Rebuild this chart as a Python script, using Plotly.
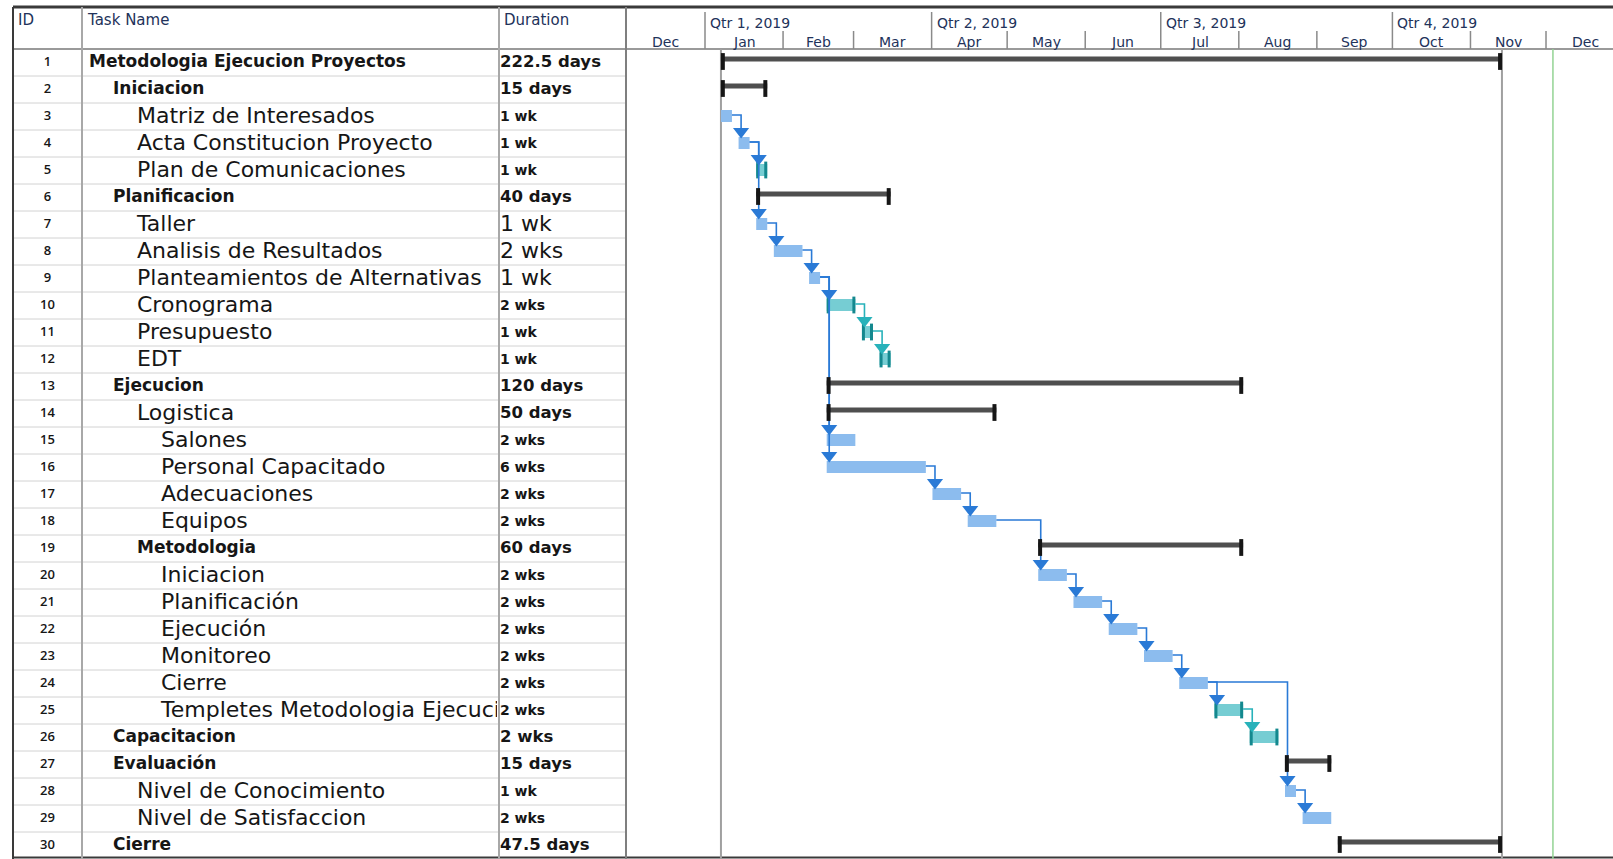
import pandas as pd
import plotly.graph_objects as go

# ---------------- data ----------------
task_ids = list(range(1, 31))
task_names = [
    "Metodologia Ejecucion Proyectos", "Iniciacion", "Matriz de Interesados",
    "Acta Constitucion Proyecto", "Plan de Comunicaciones", "Planificacion", "Taller",
    "Analisis de Resultados", "Planteamientos de Alternativas", "Cronograma",
    "Presupuesto", "EDT", "Ejecucion", "Logistica", "Salones", "Personal Capacitado",
    "Adecuaciones", "Equipos", "Metodologia", "Iniciacion", "Planificación", "Ejecución",
    "Monitoreo", "Cierre", "Templetes Metodologia Ejecucion Proyectos", "Capacitacion",
    "Evaluación", "Nivel de Conocimiento", "Nivel de Satisfaccion", "Cierre",
]
durations = [
    "222.5 days", "15 days", "1 wk", "1 wk", "1 wk", "40 days", "1 wk", "2 wks", "1 wk",
    "2 wks", "1 wk", "1 wk", "120 days", "50 days", "2 wks", "6 wks", "2 wks", "2 wks",
    "60 days", "2 wks", "2 wks", "2 wks", "2 wks", "2 wks", "2 wks", "2 wks", "15 days",
    "1 wk", "2 wks", "47.5 days",
]
outline_levels = [1, 2, 3, 3, 3, 2, 3, 3, 3, 3, 3, 3, 2, 3, 4, 4, 4, 4, 3, 4, 4, 4, 4, 4, 4, 2, 2, 3, 3, 2]
name_styles = "B B N N N B N N N N N N B N N N N N B N N N N N N B B N N B".split()
duration_styles = "B B S S S B N N N S S S B B S S S S B S S S S S S B B S S B".split()
# S = summary, T = task, M = manually scheduled task
bar_kinds = "S S T T M S T T T M M M S S T T T T S T T T T T M M S T T S".split()
start_dates = [
    "2019-01-07 08:00", "2019-01-07 08:00", "2019-01-07 08:00", "2019-01-14 08:00",
    "2019-01-21 08:00", "2019-01-21 08:00", "2019-01-21 08:00", "2019-01-28 08:00",
    "2019-02-11 08:00", "2019-02-18 08:00", "2019-03-04 08:00", "2019-03-11 08:00",
    "2019-02-18 08:00", "2019-02-18 08:00", "2019-02-18 08:00", "2019-02-18 08:00",
    "2019-04-01 08:00", "2019-04-15 08:00", "2019-05-13 08:00", "2019-05-13 08:00",
    "2019-05-27 08:00", "2019-06-10 08:00", "2019-06-24 08:00", "2019-07-08 08:00",
    "2019-07-22 08:00", "2019-08-05 08:00", "2019-08-19 08:00", "2019-08-19 08:00",
    "2019-08-26 08:00", "2019-09-09 08:00",
]
finish_dates = [
    "2019-11-13 12:00", "2019-01-25 17:00", "2019-01-11 17:00", "2019-01-18 17:00",
    "2019-01-25 17:00", "2019-03-15 17:00", "2019-01-25 17:00", "2019-02-08 17:00",
    "2019-02-15 17:00", "2019-03-01 17:00", "2019-03-08 17:00", "2019-03-15 17:00",
    "2019-08-02 17:00", "2019-04-26 17:00", "2019-03-01 17:00", "2019-03-29 17:00",
    "2019-04-12 17:00", "2019-04-26 17:00", "2019-08-02 17:00", "2019-05-24 17:00",
    "2019-06-07 17:00", "2019-06-21 17:00", "2019-07-05 17:00", "2019-07-19 17:00",
    "2019-08-02 17:00", "2019-08-16 17:00", "2019-09-06 17:00", "2019-08-23 17:00",
    "2019-09-06 17:00", "2019-11-13 12:00",
]
link_from = [3, 4, 4, 7, 8, 9, 10, 11, 9, 9, 16, 17, 18, 20, 21, 22, 23, 24, 25, 24, 28]
link_to = [4, 5, 7, 8, 9, 10, 11, 12, 15, 16, 17, 18, 20, 21, 22, 23, 24, 25, 26, 28, 29]
month_starts = ["2018-12-01", "2019-01-01", "2019-02-01", "2019-03-01", "2019-04-01",
                "2019-05-01", "2019-06-01", "2019-07-01", "2019-08-01", "2019-09-01",
                "2019-10-01", "2019-11-01", "2019-12-01", "2020-01-01"]
month_labels = ["Dec", "Jan", "Feb", "Mar", "Apr", "May", "Jun", "Jul", "Aug", "Sep",
                "Oct", "Nov", "Dec"]
quarter_starts = ["2019-01-01", "2019-04-01", "2019-07-01", "2019-10-01"]
quarter_labels = ["Qtr 1, 2019", "Qtr 2, 2019", "Qtr 3, 2019", "Qtr 4, 2019"]
status_date = "2019-12-03 18:00"

# ---------------- layout constants ----------------
W, H = 1613, 859
TOP_Y, HEADER_Y, ROW_H = 7, 49, 27
X_LEFT, X_ID, X_DUR, X_CHART = 13, 82, 499, 626
PX_PER_DAY = 2.518
JAN1_PX = 705

C_TASK = "#8cbcee"
C_MANUAL = "#76cdd3"
C_MANUAL_CAP = "#14888e"
C_SUM = "#4f4f4f"
C_SUM_CAP = "#161616"
C_LINK = "#2a7ad6"
C_LINK_M = "#28b2ba"
C_HDR_TXT = "#22325a"
C_TXT = "#161616"

starts = pd.to_datetime(start_dates)
finishes = pd.to_datetime(finish_dates)
jan1 = pd.Timestamp("2019-01-01")
x_min = jan1 - pd.Timedelta(days=(JAN1_PX - X_CHART) / PX_PER_DAY)
x_max = jan1 + pd.Timedelta(days=(W - JAN1_PX) / PX_PER_DAY)


def row_center(i):
    return HEADER_Y + ROW_H * i + ROW_H / 2


def fmt(ts):
    return ts.strftime("%Y-%m-%d %H:%M:%S")


fig = go.Figure()

# ---------------- Gantt bars ----------------
for kind, color, width, dy in [("T", C_TASK, 12, -0.5), ("M", C_MANUAL, 12, -0.5), ("S", C_SUM, 5, -3.5)]:
    idx = [i for i, k in enumerate(bar_kinds) if k == kind]
    fig.add_trace(go.Bar(
        orientation="h",
        y=[row_center(i) + dy for i in idx],
        base=[fmt(starts[i]) for i in idx],
        x=[(finishes[i] - starts[i]).total_seconds() * 1000 for i in idx],
        width=width, marker=dict(color=color, line=dict(width=0)),
        xaxis="x3", yaxis="y", hoverinfo="skip", showlegend=False,
    ))

# manual task end caps
cap_in = pd.Timedelta(hours=14)
idx = [i for i, k in enumerate(bar_kinds) if k == "M"]
cx, cy = [], []
for i in idx:
    cx += [fmt(starts[i] + cap_in), fmt(finishes[i] - cap_in)]
    cy += [row_center(i) - 0.5] * 2
fig.add_trace(go.Scatter(
    x=cx, y=cy, mode="markers", xaxis="x3", yaxis="y",
    marker=dict(symbol="line-ns", size=12, line=dict(width=3, color=C_MANUAL_CAP)),
    hoverinfo="skip", showlegend=False, cliponaxis=False,
))

# ---------------- dependency links ----------------
drop_off = pd.Timedelta(hours=24)
for color, mk in [(C_LINK, False), (C_LINK_M, True)]:
    lx, ly, ax, ay = [], [], [], []
    for a, b in zip(link_from, link_to):
        ia, ib = a - 1, b - 1
        if (bar_kinds[ia] == "M") != mk:
            continue
        xd = fmt(starts[ib] + drop_off)
        y0 = row_center(ia) - 1.5
        ytop = row_center(ib) - 0.5 - 6
        lx += [fmt(finishes[ia]), xd, xd, None]
        ly += [y0, y0, ytop - 5, None]
        ax.append(xd)
        ay.append(ytop - 5.5)
    fig.add_trace(go.Scatter(x=lx, y=ly, mode="lines", xaxis="x3", yaxis="y",
                             line=dict(color=color, width=1.6), hoverinfo="skip",
                             showlegend=False))
    fig.add_trace(go.Scatter(x=ax, y=ay, mode="markers", xaxis="x3", yaxis="y",
                             marker=dict(symbol="triangle-down", size=14, color=color,
                                         line=dict(width=0)),
                             hoverinfo="skip", showlegend=False))

# summary caps
idx = [i for i, k in enumerate(bar_kinds) if k == "S"]
sx, sy = [], []
for i in idx:
    sx += [fmt(starts[i] + pd.Timedelta(hours=18)), fmt(finishes[i] - pd.Timedelta(hours=18))]
    sy += [row_center(i) - 1] * 2
fig.add_trace(go.Scatter(
    x=sx, y=sy, mode="markers", xaxis="x3", yaxis="y",
    marker=dict(symbol="line-ns", size=12, line=dict(width=4, color=C_SUM_CAP)),
    hoverinfo="skip", showlegend=False, cliponaxis=False,
))

# ---------------- table texts ----------------
fig.add_trace(go.Scatter(
    x=[47.5] * len(task_ids), y=[row_center(i) for i in range(len(task_ids))],
    text=[str(t) for t in task_ids], mode="text", textposition="middle center",
    textfont=dict(family="Open Sans", size=13, color=C_TXT, weight=600),
    xaxis="x", yaxis="y", hoverinfo="skip", showlegend=False,
))

name_fonts = {"B": dict(family="DejaVu Sans", size=17, color=C_TXT, weight="bold"),
              "N": dict(family="DejaVu Sans", size=22, color=C_TXT)}
for st, font in name_fonts.items():
    idx = [i for i, s in enumerate(name_styles) if s == st]
    fig.add_trace(go.Scatter(
        x=[65 + 24 * outline_levels[i] for i in idx],
        y=[row_center(i) + 0.5 for i in idx],
        text=[task_names[i] for i in idx], mode="text", textposition="middle right",
        textfont=font, xaxis="x2", yaxis="y", hoverinfo="skip", showlegend=False,
        cliponaxis=True,
    ))

dur_fonts = {"B": dict(family="DejaVu Sans", size=16.5, color=C_TXT, weight="bold"),
             "S": dict(family="DejaVu Sans", size=14, color=C_TXT, weight="bold"),
             "N": dict(family="DejaVu Sans", size=22, color=C_TXT)}
for st, font in dur_fonts.items():
    idx = [i for i, s in enumerate(duration_styles) if s == st]
    fig.add_trace(go.Scatter(
        x=[X_DUR + 1] * len(idx), y=[row_center(i) + 0.5 for i in idx],
        text=[durations[i] for i in idx], mode="text", textposition="middle right",
        textfont=font, xaxis="x", yaxis="y", hoverinfo="skip", showlegend=False,
    ))

# ---------------- shapes ----------------
shapes = []


def hline(y, x0, x1, color, width, xref="paper"):
    if xref == "paper":
        x0, x1 = x0 / W, x1 / W
    shapes.append(dict(type="line", xref=xref, yref="y", x0=x0, x1=x1, y0=y, y1=y,
                       line=dict(color=color, width=width), layer="below"))


def vline(x, y0, y1, color, width, xref="paper"):
    if xref == "paper":
        x = x / W
    shapes.append(dict(type="line", xref=xref, yref="y", x0=x, x1=x, y0=y0, y1=y1,
                       line=dict(color=color, width=width), layer="below"))


for k in range(1, len(task_ids)):
    hline(HEADER_Y + ROW_H * k, X_LEFT, X_CHART, "#d2d2d2", 1)
hline(HEADER_Y, X_LEFT, W, "#9a9a9a", 2)
hline(TOP_Y, X_LEFT, W, "#3a3a3a", 3)
hline(H - 1.5, X_LEFT, W, "#3a3a3a", 2)
vline(X_LEFT, TOP_Y, H, "#3a3a3a", 2)
vline(X_ID, TOP_Y, H, "#a8a8a8", 2)
vline(X_DUR, TOP_Y, H, "#a8a8a8", 2)
vline(X_CHART, TOP_Y, H, "#7f7f7f", 2)

# timescale dividers
for ms in month_starts[1:-1]:
    top = 12 if ms in quarter_starts else 31
    vline(ms, top, HEADER_Y, "#8a8a8a", 1.5, xref="x3")

# project start / finish and status date
vline(fmt(starts[0]), HEADER_Y, H, "#a0a0a0", 2, xref="x3")
vline(fmt(finishes[0]), HEADER_Y, H, "#a0a0a0", 2, xref="x3")
vline(status_date, HEADER_Y, H, "#93d393", 1.5, xref="x3")

# ---------------- annotations ----------------
ann = []
hdr_font = dict(family="DejaVu Sans", size=14, color=C_HDR_TXT)
for label, x in [("ID", X_LEFT + 3), ("Task Name", X_ID + 3), ("Duration", X_DUR + 3)]:
    ann.append(dict(x=x, y=20, xref="x", yref="y", text=label, showarrow=False,
                    xanchor="left", yanchor="middle",
                    font=dict(family="DejaVu Sans", size=15, color=C_HDR_TXT)))
ms_ts = pd.to_datetime(month_starts)
for j, lab in enumerate(month_labels):
    mid = ms_ts[j] + (ms_ts[j + 1] - ms_ts[j]) / 2
    ann.append(dict(x=fmt(mid), y=42, xref="x3", yref="y", text=lab, showarrow=False,
                    xanchor="center", yanchor="middle",
                    font=dict(family="DejaVu Sans", size=14, color=C_HDR_TXT)))
for qs, lab in zip(quarter_starts, quarter_labels):
    ann.append(dict(x=qs, y=23, xref="x3", yref="y", text=lab, showarrow=False,
                    xanchor="left", yanchor="middle", xshift=3, font=hdr_font))

fig.update_layout(
    width=W, height=H, margin=dict(l=0, r=0, t=0, b=0),
    paper_bgcolor="white", plot_bgcolor="rgba(0,0,0,0)",
    barmode="overlay", showlegend=False,
    xaxis=dict(domain=[0, X_CHART / W], range=[0, X_CHART], visible=False, fixedrange=True),
    xaxis2=dict(domain=[X_ID / W, (X_DUR - 2) / W], range=[X_ID, X_DUR - 2], visible=False,
                anchor="y", fixedrange=True),
    xaxis3=dict(domain=[X_CHART / W, 1], range=[fmt(x_min), fmt(x_max)], type="date",
                visible=False, anchor="y", fixedrange=True),
    yaxis=dict(domain=[0, 1], range=[H, 0], visible=False, fixedrange=True),
    shapes=shapes, annotations=ann,
)

fig.write_html("out.html", config={"displayModeBar": False},
               post_script="document.body.style.margin='0';document.body.style.overflow='hidden';")
